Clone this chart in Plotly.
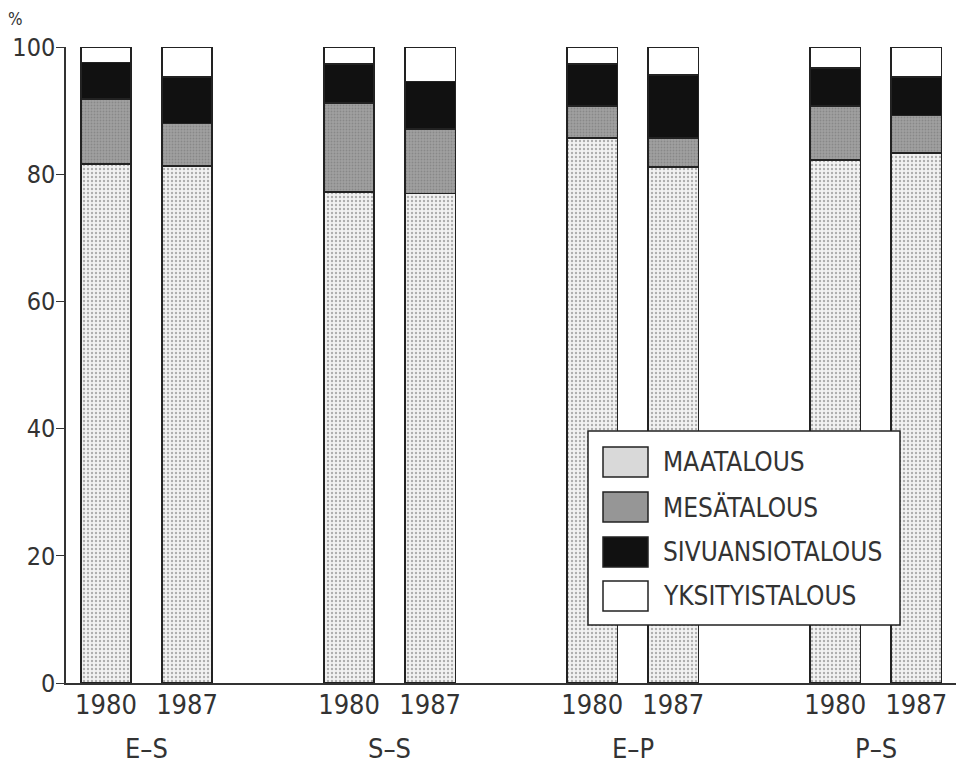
import plotly.graph_objects as go

groups = ["E–S", "S–S", "E–P", "P–S"]
years = ["1980", "1987"]
series_names = ["MAATALOUS", "MESÄTALOUS", "SIVUANSIOTALOUS", "YKSITYISTALOUS"]

# order: E-S 1980, E-S 1987, S-S 1980, S-S 1987, E-P 1980, E-P 1987, P-S 1980, P-S 1987
maatalous = [81.6, 81.3, 77.2, 77.0, 85.7, 81.1, 82.2, 83.3]
mesatalous = [10.2, 6.7, 14.0, 10.1, 5.0, 4.6, 8.5, 5.9]
sivuansiotalous = [5.8, 7.3, 6.1, 7.5, 6.6, 9.9, 6.0, 6.1]
yksityistalous = [2.4, 4.7, 2.7, 5.4, 2.7, 4.4, 3.3, 4.7]

# slot positions: one empty slot between groups
slots = [g * 3 + k for g in range(len(groups)) for k in range(len(years))]
ticktext = [years[k] for g in range(len(groups)) for k in range(len(years))]

FONT = "Liberation Sans Narrow, DejaVu Sans Condensed, Liberation Sans, Arial, sans-serif"
TXT = "#333333"

styles = [
    dict(color="#f2f2f2", pattern=dict(shape=".", fgcolor="#6a6a6a", bgcolor="#f2f2f2", size=4, solidity=0.28)),
    dict(color="#9a9a9a", pattern=dict(shape=".", fgcolor="#707070", bgcolor="#a0a0a0", size=3, solidity=0.3)),
    dict(color="#111111"),
    dict(color="#ffffff"),
]
swatch_colors = ["#d9d9d9", "#969696", "#111111", "#ffffff"]

fig = go.Figure()
for name, vals, st in zip(series_names, [maatalous, mesatalous, sivuansiotalous, yksityistalous], styles):
    marker = dict(color=st["color"], line=dict(color="#222222", width=1.5))
    if "pattern" in st:
        marker["pattern"] = st["pattern"]
    fig.add_trace(go.Bar(x=slots, y=vals, name=name, width=0.62, marker=marker,
                         showlegend=False, cliponaxis=False))

# page body has an 8px margin, so the figure is offset by 8px
W, H = 950, 759
L, T, B, R = 58, 39, 84, 2
PW = W - L - R
PH = H - T - B
OX, OY = 8 + L, 8 + T  # plot-area top-left in window pixels

fig.update_layout(
    barmode="stack",
    width=W, height=H,
    margin=dict(l=L, r=R, t=T, b=B, autoexpand=False),
    plot_bgcolor="white", paper_bgcolor="white",
    font=dict(family=FONT, size=26, color=TXT),
    xaxis=dict(range=[-0.494, 10.49], tickvals=slots, ticktext=ticktext, showline=True,
               linecolor="#333333", linewidth=1.5, ticks="", showgrid=False, zeroline=False,
               tickfont=dict(size=27, family=FONT, color=TXT), ticklabelstandoff=-3),
    yaxis=dict(range=[0, 100], tickvals=[0, 20, 40, 60, 80, 100], showline=True,
               linecolor="#333333", linewidth=1.5, ticks="outside", ticklen=8, tickwidth=1.2,
               tickcolor="#333333", showgrid=False, zeroline=False,
               tickfont=dict(size=25, family=FONT, color=TXT), ticklabelstandoff=-4),
)


def px_x(p):
    return (p - OX) / float(PW)


def px_y(p):
    return (OY + PH - p) / float(PH)


annotations = []
for g, name in enumerate(groups):
    annotations.append(dict(x=g * 3 + 0.5, y=px_y(748), xref="x", yref="paper", text=name,
                            showarrow=False, font=dict(size=27, family=FONT, color=TXT),
                            yanchor="middle"))
annotations.append(dict(x=px_x(15), y=px_y(19), xref="paper", yref="paper", text="%",
                        showarrow=False, xanchor="center", yanchor="middle",
                        font=dict(size=17, family=FONT, color=TXT)))

# legend drawn manually (large swatches)
shapes = [dict(type="rect", xref="paper", yref="paper", x0=px_x(588), x1=px_x(900),
               y0=px_y(625), y1=px_y(431), fillcolor="white",
               line=dict(color="#222222", width=1.5), layer="above")]
row_tops = [447, 492, 537, 581]
for name, col, top in zip(series_names, swatch_colors, row_tops):
    shapes.append(dict(type="rect", xref="paper", yref="paper", x0=px_x(603), x1=px_x(648),
                       y0=px_y(top + 30), y1=px_y(top), fillcolor=col,
                       line=dict(color="#222222", width=1.5), layer="above"))
    annotations.append(dict(x=px_x(661), y=px_y(top + 15), xref="paper", yref="paper",
                            text=name, showarrow=False, xanchor="left", yanchor="middle",
                            font=dict(size=26, family=FONT, color=TXT)))

fig.update_layout(shapes=shapes, annotations=annotations)
fig.write_html("out.html")
